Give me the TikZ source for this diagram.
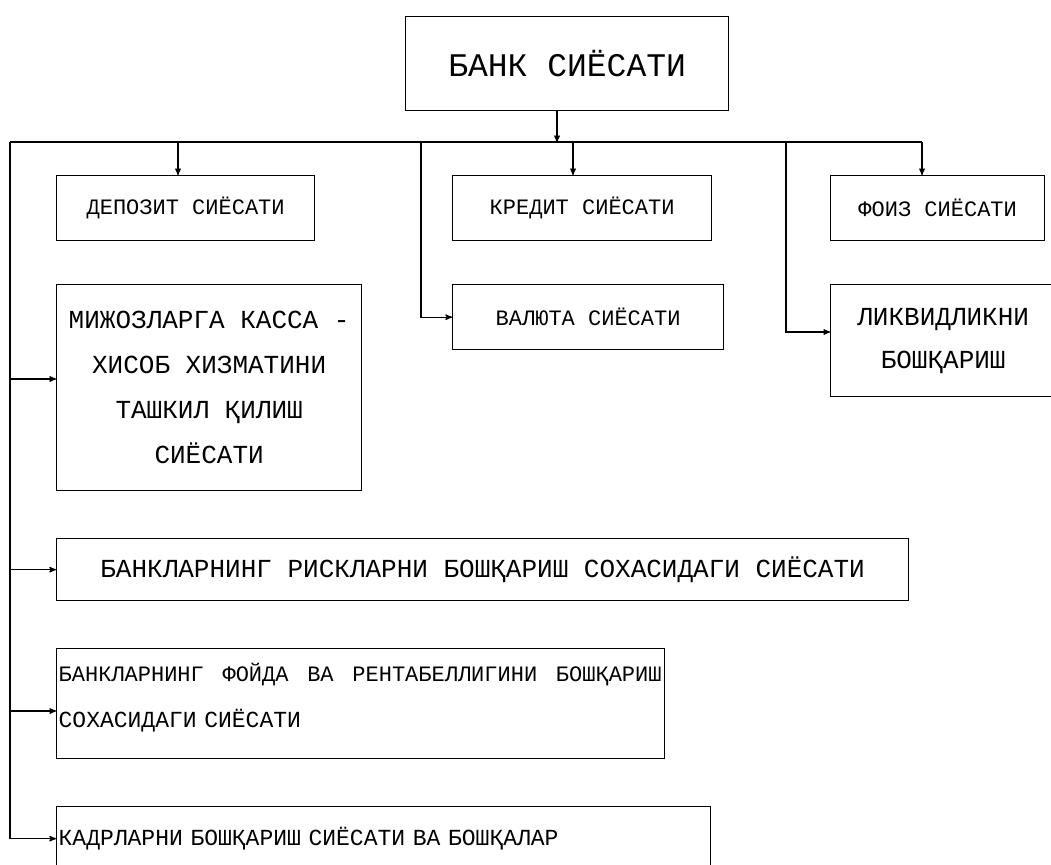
\documentclass[tikz,border=0pt]{standalone}
\usepackage{fontspec}
\setmainfont{Liberation Mono}
\usetikzlibrary{arrows}

\begin{document}
\begin{tikzpicture}[->,>=stealth',line width=1.3pt,x=1pt,y=-1pt]
    \tikzstyle{policy}=[draw, rectangle, anchor=north west, inner sep=2pt, text=black, font=\fontsize{22}{26}\selectfont]
    \tikzstyle{big}=[font=\fontsize{26}{45}\selectfont, align=center]
    \useasboundingbox (0,0) rectangle (1051,864);

    \node[policy, minimum width=323pt, minimum height=94pt, font=\fontsize{33}{38}\selectfont] (bank) at (405,16) {БАНК СИЁСАТИ};

    \node[policy, minimum width=258pt, minimum height=65pt] (deposit) at (56,175)  {ДЕПОЗИТ СИЁСАТИ};
    \node[policy, minimum width=259pt, minimum height=65pt] (credit)  at (452,175) {КРЕДИТ СИЁСАТИ};
    \node[policy, minimum width=214pt, minimum height=65pt] (interest) at (830,175) {ФОИЗ СИЁСАТИ};

    \node[policy, big, minimum width=305pt, minimum height=206pt] (cash) at (56,284)
      {МИЖОЗЛАРГА КАССА -\\ХИСОБ ХИЗМАТИНИ\\ТАШКИЛ ҚИЛИШ\\СИЁСАТИ};
    \node[policy, minimum width=271pt, minimum height=65pt] (currency) at (452,284) {ВАЛЮТА СИЁСАТИ};
    \node[policy, big, minimum width=225pt, minimum height=112pt, font=\fontsize{26}{43}\selectfont] (liquid) at (830,284)
      {ЛИКВИДЛИКНИ\\БОШҚАРИШ};

    \node[policy, minimum width=852pt, minimum height=62pt, font=\fontsize{26}{30}\selectfont] (risk) at (56,538)
      {БАНКЛАРНИНГ РИСКЛАРНИ БОШҚАРИШ СОХАСИДАГИ СИЁСАТИ};
    \node[policy, minimum height=110pt, text width=604pt, align=left, font=\fontsize{23}{46}\selectfont] (profit) at (56,648)
      {\makebox[603pt][s]{\fontsize{22}{46}\selectfont БАНКЛАРНИНГ\hfill ФОЙДА\hfill ВА\hfill РЕНТАБЕЛЛИГИНИ\hfill БОШҚАРИШ}\\СОХАСИДАГИ СИЁСАТИ\rule[-17pt]{0pt}{0pt}};
    \node[policy, minimum height=64pt, text width=650pt, align=left, font=\fontsize{23}{27}\selectfont] (staff) at (56,806)
      {КАДРЛАРНИ БОШҚАРИШ СИЁСАТИ ВА БОШҚАЛАР};

    \coordinate (bus)   at (557,142);
    \coordinate (busL)  at (10,142);
    \coordinate (busR)  at (922,142);
    \coordinate (busM)  at (421,142);
    \coordinate (busN)  at (786,142);
    \coordinate (dropA) at (178,142);
    \coordinate (dropB) at (573,142);

    \draw (bank.south -| bus) -- (bus);
    \draw[-] (busL) -- (busR);
    \draw (dropA) -- (dropA |- deposit.north);
    \draw (dropB) -- (dropB |- credit.north);
    \draw (busR) -- (busR |- interest.north);

    \draw[-] (busL) -- (busL |- staff.west);
    \draw (busL |- 0,379) -- (cash.west |- 0,379);
    \draw (busL |- risk.west) -- (risk.west);
    \draw (busL |- 0,711) -- (profit.west |- 0,711);
    \draw (busL |- staff.west) -- (staff.west);

    \draw (busM) |- (currency.west);
    \draw (busN) |- (liquid.west |- 0,332);
\end{tikzpicture}
\end{document}
